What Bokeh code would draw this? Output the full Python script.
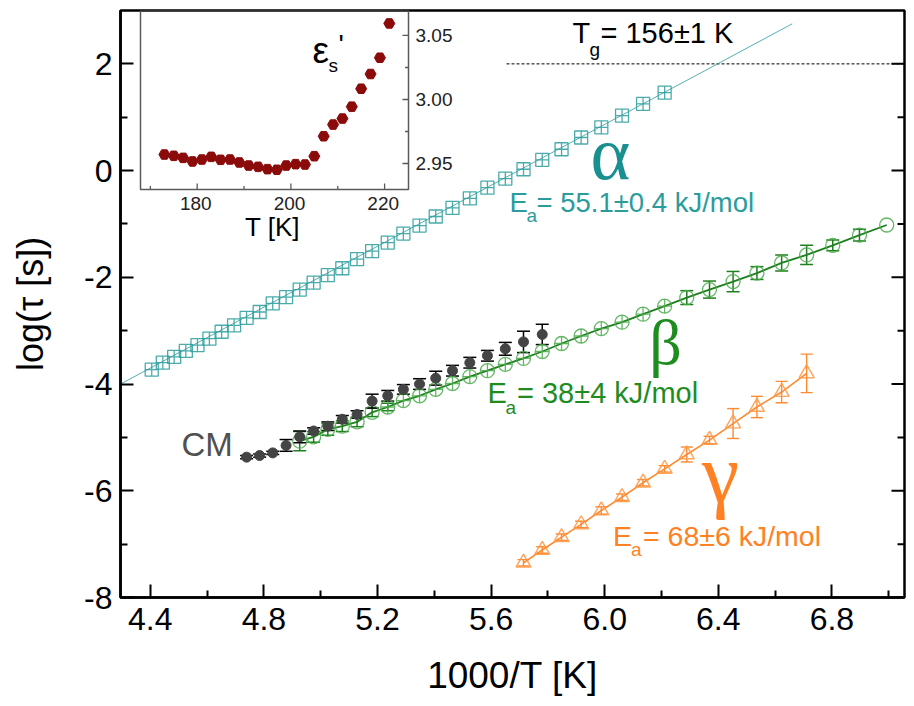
from bokeh.plotting import figure
from bokeh.models import Range1d, FixedTicker, ColumnDataSource, Whisker, TeeHead
from bokeh.core.properties import value
from bokeh.embed import file_html
from bokeh.resources import INLINE

# ---------------- data ----------------
alpha_x = [4.405, 4.444, 4.484, 4.525, 4.566, 4.608, 4.651, 4.695, 4.739, 4.785,
           4.831, 4.878, 4.926, 4.975, 5.025, 5.076, 5.128, 5.181, 5.236, 5.291,
           5.348, 5.405, 5.464, 5.525, 5.587, 5.650, 5.714, 5.780, 5.848, 5.917,
           5.988, 6.061, 6.135, 6.211]
alpha_y = [-3.73, -3.60, -3.49, -3.38, -3.27, -3.15, -3.02, -2.90, -2.76, -2.65,
           -2.49, -2.37, -2.23, -2.10, -1.96, -1.83, -1.66, -1.51, -1.35, -1.18,
           -1.03, -0.86, -0.70, -0.52, -0.32, -0.15, 0.025, 0.20, 0.40, 0.62,
           0.81, 1.03, 1.25, 1.46]
alpha_fit_x = [4.295, 6.66]
alpha_fit_y = [-4.00, 2.75]

beta_x = [4.926, 4.975, 5.025, 5.076, 5.128, 5.181, 5.236, 5.291, 5.348, 5.405,
          5.464, 5.525, 5.587, 5.650, 5.714, 5.780, 5.848, 5.917, 5.988, 6.061,
          6.135, 6.211, 6.289, 6.369, 6.452, 6.536, 6.623, 6.711, 6.803, 6.897, 6.993]
beta_y = [-5.07, -4.99, -4.85, -4.79, -4.71, -4.53, -4.43, -4.31, -4.22, -4.10,
          -3.99, -3.86, -3.75, -3.63, -3.52, -3.39, -3.24, -3.10, -2.96, -2.84,
          -2.69, -2.54, -2.38, -2.23, -2.08, -1.92, -1.73, -1.58, -1.40, -1.21, -1.02]
beta_err = [0.18, 0.10, 0.11, 0.10, 0.09, 0.08, 0.07, 0.05, 0.05, 0.05,
            0.04, 0.04, 0.04, 0.04, 0.04, 0.04, 0.04, 0.04, 0.04, 0.04,
            0.04, 0.04, 0.13, 0.16, 0.19, 0.12, 0.15, 0.18, 0.10, 0.11, 0.06]
beta_crossed = [False] * 6 + [True] * 16 + [False] * 9

cm_x = [4.739, 4.785, 4.831, 4.878, 4.926, 4.975, 5.025, 5.076, 5.128, 5.181,
        5.236, 5.291, 5.348, 5.405, 5.464, 5.525, 5.587, 5.650, 5.714, 5.780]
cm_y = [-5.37, -5.34, -5.29, -5.15, -4.99, -4.88, -4.79, -4.66, -4.57, -4.32,
        -4.22, -4.10, -4.00, -3.89, -3.75, -3.60, -3.47, -3.34, -3.21, -3.07]
cm_err = [0.03, 0.03, 0.03, 0.11, 0.11, 0.06, 0.08, 0.07, 0.07, 0.13,
          0.10, 0.09, 0.10, 0.13, 0.10, 0.10, 0.10, 0.12, 0.20, 0.19]

gamma_x = [5.714, 5.780, 5.848, 5.917, 5.988, 6.061, 6.135, 6.211, 6.289, 6.369,
           6.452, 6.536, 6.623, 6.711]
gamma_y = [-7.35, -7.11, -6.87, -6.63, -6.37, -6.12, -5.85, -5.59, -5.32, -5.05,
           -4.74, -4.43, -4.15, -3.80]
gamma_err = [0.06, 0.06, 0.06, 0.06, 0.07, 0.06, 0.06, 0.06, 0.14, 0.07,
             0.28, 0.20, 0.20, 0.36]

inset_T = [173, 175, 177, 179, 181, 183, 185, 187, 189, 191, 193, 195, 197,
           199, 201, 203, 205, 207, 209, 211, 213, 215, 217, 219, 221]
inset_eps = [2.9570, 2.9560, 2.9544, 2.9516, 2.9531, 2.9552, 2.9529, 2.9531,
             2.9508, 2.9484, 2.9474, 2.9456, 2.9451, 2.9484, 2.9495, 2.9492,
             2.9557, 2.9713, 2.9804, 2.9851, 2.9944, 3.0084, 3.0199, 3.0326, 3.0594]

x_ticks = [4.4, 4.8, 5.2, 5.6, 6.0, 6.4, 6.8]
x_tick_labels = ["4.4", "4.8", "5.2", "5.6", "6.0", "6.4", "6.8"]
x_minor = [4.6, 5.0, 5.4, 5.8, 6.2, 6.6, 7.0]
y_ticks = [-8, -6, -4, -2, 0, 2]
y_tick_labels = ["-8", "-6", "-4", "-2", "0", "2"]
y_minor = [-7, -5, -3, -1, 1]

inset_T_ticks = [180, 200, 220]
inset_T_labels = ["180", "200", "220"]
inset_T_minor = [170, 190, 210]
inset_eps_ticks = [2.95, 3.00, 3.05]
inset_eps_labels = ["2.95", "3.00", "3.05"]
inset_eps_minor = [2.975, 3.025]

# ---------------- layout constants ----------------
FW, FH = 784, 587
FL, FT = 120, 10          # frame left/top in pixels
PXX = 284.0               # pixels per x unit
X0 = 4.295
X1 = X0 + FW / PXX
Y0, Y1 = -8.0, 3.0

def mx(sx):
    return X0 + (sx - FL) * (X1 - X0) / FW

def my(sy):
    return Y1 - (sy - FT) * (Y1 - Y0) / FH

def dpx(n):               # n pixels in x data units
    return n * (X1 - X0) / FW

IT0, IT1 = 167.9, 225.1
IE0, IE1 = 2.9297, 3.0695
IL, IR, ITOP, IB = 140, 408, 10, 189
kx = (IT1 - IT0) / (IR - IL)
ky = (IE1 - IE0) / (IB - ITOP)

FNAME = "Liberation Sans"
FONT = value(FNAME)
SERIF = value("Liberation Serif")
K_SANS = 0.3465           # baseline -> drawn position correction (em)
K_SERIF = 0.3375

TEAL = "#2b9c9c"
TEAL_T = "#1a8f8f"
GREEN_M = "#4aaa4a"
GREEN_L = "#1d7f1d"
GREEN_T = "#1f8c1f"
ORANGE_M = "#ff9a4a"
ORANGE_L = "#ff8a30"
ORANGE_T = "#ff8124"
CM_C = "#444444"
RED = "#8b0a0a"

p = figure(frame_width=FW, frame_height=FH,
           x_range=Range1d(X0, X1), y_range=Range1d(Y0, Y1),
           output_backend="svg", toolbar_location=None,
           min_border_left=FL, min_border_right=2, min_border_top=FT, min_border_bottom=101)
p.extra_x_ranges = {"ix": Range1d(IT0 - (IL - FL) * kx, IT0 - (IL - FL) * kx + FW * kx)}
p.extra_y_ranges = {"iy": Range1d(IE1 - FH * ky, IE1)}
p.grid.visible = False
p.outline_line_color = "black"
p.outline_line_width = 2.5
p.background_fill_color = "white"
p.border_fill_color = "white"

for ax in (p.xaxis[0], p.yaxis[0]):
    ax.axis_line_width = 2.5
    ax.major_tick_in = 13
    ax.major_tick_out = 0
    ax.minor_tick_in = 7
    ax.minor_tick_out = 0
    ax.major_tick_line_width = 2
    ax.minor_tick_line_width = 2
    ax.major_label_text_font = FNAME
    ax.major_label_text_font_size = "32px"
    ax.major_label_text_color = "black"
    ax.axis_label_text_font = FNAME
    ax.axis_label_text_font_style = "normal"
    ax.axis_label_text_color = "black"

p.xaxis.ticker = FixedTicker(ticks=x_ticks, minor_ticks=x_minor)
p.xaxis.major_label_overrides = dict(zip(x_ticks, x_tick_labels))
p.xaxis.major_label_standoff = 10
p.xaxis.axis_label = "1000/T [K]"
p.xaxis.axis_label_text_font_size = "37px"
p.xaxis.axis_label_standoff = 22

p.yaxis.ticker = FixedTicker(ticks=y_ticks, minor_ticks=y_minor)
p.yaxis.major_label_overrides = dict(zip(y_ticks, y_tick_labels))
p.yaxis.major_label_standoff = 8
p.yaxis.axis_label = "log(\u03c4 [s])"
p.yaxis.axis_label_text_font_size = "36px"
p.yaxis.axis_label_standoff = 30

# right-hand ticks (inward) at the tick values
p.segment(x0=[X1] * len(y_ticks), x1=[X1 - dpx(13)] * len(y_ticks), y0=y_ticks, y1=y_ticks,
          line_color="black", line_width=2)
p.segment(x0=[X1] * len(y_minor), x1=[X1 - dpx(7)] * len(y_minor), y0=y_minor, y1=y_minor,
          line_color="black", line_width=2)

# ---------------- Tg line ----------------
p.line([mx(506), X1], [2, 2], line_color="black", line_width=1, line_dash="3 2")

# ---------------- alpha ----------------
p.line(alpha_fit_x, alpha_fit_y, line_color=TEAL, line_width=1, line_alpha=0.8)
p.scatter(alpha_x, alpha_y, marker="square_cross", size=13, fill_color=None,
          line_color=TEAL, line_width=1.3, line_alpha=0.85)

# ---------------- beta ----------------
p.line(beta_x, beta_y, line_color=GREEN_L, line_width=1.8)
bx_c = [x for x, c in zip(beta_x, beta_crossed) if c]
by_c = [y for y, c in zip(beta_y, beta_crossed) if c]
bx_o = [x for x, c in zip(beta_x, beta_crossed) if not c]
by_o = [y for y, c in zip(beta_y, beta_crossed) if not c]
p.scatter(bx_c, by_c, marker="circle_cross", size=14, fill_color=None,
          line_color=GREEN_M, line_width=1.3, line_alpha=0.85)
p.scatter(bx_o, by_o, marker="circle", size=14, fill_color=None,
          line_color=GREEN_M, line_width=1.3, line_alpha=0.85)
bsel = [i for i, e in enumerate(beta_err) if e > 0.06]
bsrc = ColumnDataSource(dict(x=[beta_x[i] for i in bsel],
                             lo=[beta_y[i] - beta_err[i] for i in bsel],
                             up=[beta_y[i] + beta_err[i] for i in bsel]))
p.add_layout(Whisker(source=bsrc, base="x", lower="lo", upper="up", dimension="height",
                     line_color=GREEN_L, line_width=1.5,
                     lower_head=TeeHead(size=13, line_color=GREEN_L, line_width=1.5),
                     upper_head=TeeHead(size=13, line_color=GREEN_L, line_width=1.5)))

# ---------------- CM ----------------
csrc = ColumnDataSource(dict(x=cm_x,
                             lo=[y - e for y, e in zip(cm_y, cm_err)],
                             up=[y + e for y, e in zip(cm_y, cm_err)]))
p.add_layout(Whisker(source=csrc, base="x", lower="lo", upper="up", dimension="height",
                     line_color="black", line_width=1.5,
                     lower_head=TeeHead(size=13, line_color="black", line_width=1.5),
                     upper_head=TeeHead(size=13, line_color="black", line_width=1.5)))
p.scatter(cm_x, cm_y, marker="circle", size=10, fill_color=CM_C, line_color=CM_C)

# ---------------- gamma ----------------
p.line(gamma_x, gamma_y, line_color=ORANGE_L, line_width=1.6)
gsrc = ColumnDataSource(dict(x=gamma_x,
                             lo=[y - e for y, e in zip(gamma_y, gamma_err)],
                             up=[y + e for y, e in zip(gamma_y, gamma_err)]))
p.add_layout(Whisker(source=gsrc, base="x", lower="lo", upper="up", dimension="height",
                     line_color=ORANGE_L, line_width=1.4,
                     lower_head=TeeHead(size=12, line_color=ORANGE_L, line_width=1.4),
                     upper_head=TeeHead(size=12, line_color=ORANGE_L, line_width=1.4)))
p.scatter(gamma_x, gamma_y, marker="triangle", size=15, fill_color=None,
          line_color=ORANGE_M, line_width=1.4, line_alpha=0.9)

# ---------------- annotations ----------------
def txt(sx, sy, s, size, color, font=FONT, align="left", k=K_SANS):
    """sy is the wanted baseline in pixels."""
    p.text(x=[mx(sx)], y=[my(sy - k * size)], text=[s], text_font=font,
           text_font_size=value(f"{size}px"), text_color=color,
           text_align=align, text_baseline="alphabetic")

txt(572, 43, "T", 29, "black")
txt(589, 56, "g", 19, "black")
txt(600, 43, "= 156\u00b11 K", 29, "black")

txt(610, 178, "\u03b1", 76, TEAL_T, SERIF, "center", K_SERIF)
txt(509, 211.5, "E", 27.5, TEAL)
txt(526, 222, "a", 19, TEAL)
txt(536, 211.5, "= 55.1\u00b10.4 kJ/mol", 27.5, TEAL)

txt(665, 364, "\u03b2", 64, GREEN_T, SERIF, "center", K_SERIF)
txt(487, 402.5, "E", 29, GREEN_T)
txt(505, 414, "a", 19, GREEN_T)
txt(516.5, 402.5, "= 38\u00b14 kJ/mol", 29, GREEN_T)

txt(720, 501, "\u03b3", 84, ORANGE_T, SERIF, "center", K_SERIF)
txt(612.5, 545, "E", 28.5, ORANGE_T)
txt(630.5, 556, "a", 19, ORANGE_T)
txt(642.5, 545, "= 68\u00b16 kJ/mol", 28.5, ORANGE_T)

txt(181, 455, "CM", 33, "#505050")

# ---------------- inset ----------------
p.quad(left=[IT0], right=[IT1], bottom=[IE0], top=[IE1], fill_color=None,
       line_color="#5a5a5a", line_width=1.5, x_range_name="ix", y_range_name="iy")
p.segment(x0=inset_T_ticks, x1=inset_T_ticks, y0=[IE0] * 3, y1=[IE0 + 6 * ky] * 3,
          line_color="#5a5a5a", line_width=1.3, x_range_name="ix", y_range_name="iy")
p.segment(x0=inset_T_minor, x1=inset_T_minor, y0=[IE0] * 3, y1=[IE0 + 3.5 * ky] * 3,
          line_color="#5a5a5a", line_width=1.3, x_range_name="ix", y_range_name="iy")
p.segment(x0=[IT1] * 3, x1=[IT1 - 6 * kx] * 3, y0=inset_eps_ticks, y1=inset_eps_ticks,
          line_color="#5a5a5a", line_width=1.3, x_range_name="ix", y_range_name="iy")
p.segment(x0=[IT1] * 2, x1=[IT1 - 3.5 * kx] * 2, y0=inset_eps_minor, y1=inset_eps_minor,
          line_color="#5a5a5a", line_width=1.3, x_range_name="ix", y_range_name="iy")
p.text(x=[t - 0.3 for t in inset_T_ticks], y=[IE0 - (21 - K_SANS * 19) * ky] * 3,
       text=inset_T_labels, text_font=FONT,
       text_font_size=value("19px"), text_color="#222222", text_align="center",
       text_baseline="alphabetic", x_range_name="ix", y_range_name="iy")
p.text(x=[IT1 + 7 * kx] * 3, y=[e - (6.8 - K_SANS * 19) * ky for e in inset_eps_ticks],
       text=inset_eps_labels,
       text_font=FONT, text_font_size=value("19px"), text_color="#222222",
       text_align="left", text_baseline="alphabetic", x_range_name="ix", y_range_name="iy")
p.scatter(inset_T, inset_eps, marker="hex", size=11, fill_color=RED, line_color=RED,
          x_range_name="ix", y_range_name="iy")
txt(272, 236, "T [K]", 26, "black", FONT, "center")
txt(312, 63, "\u03b5", 37, "black")
txt(328, 72, "s", 19, "black")
txt(338, 54, "'", 28, "black")

open("out.html", "w").write(file_html(p, INLINE))
